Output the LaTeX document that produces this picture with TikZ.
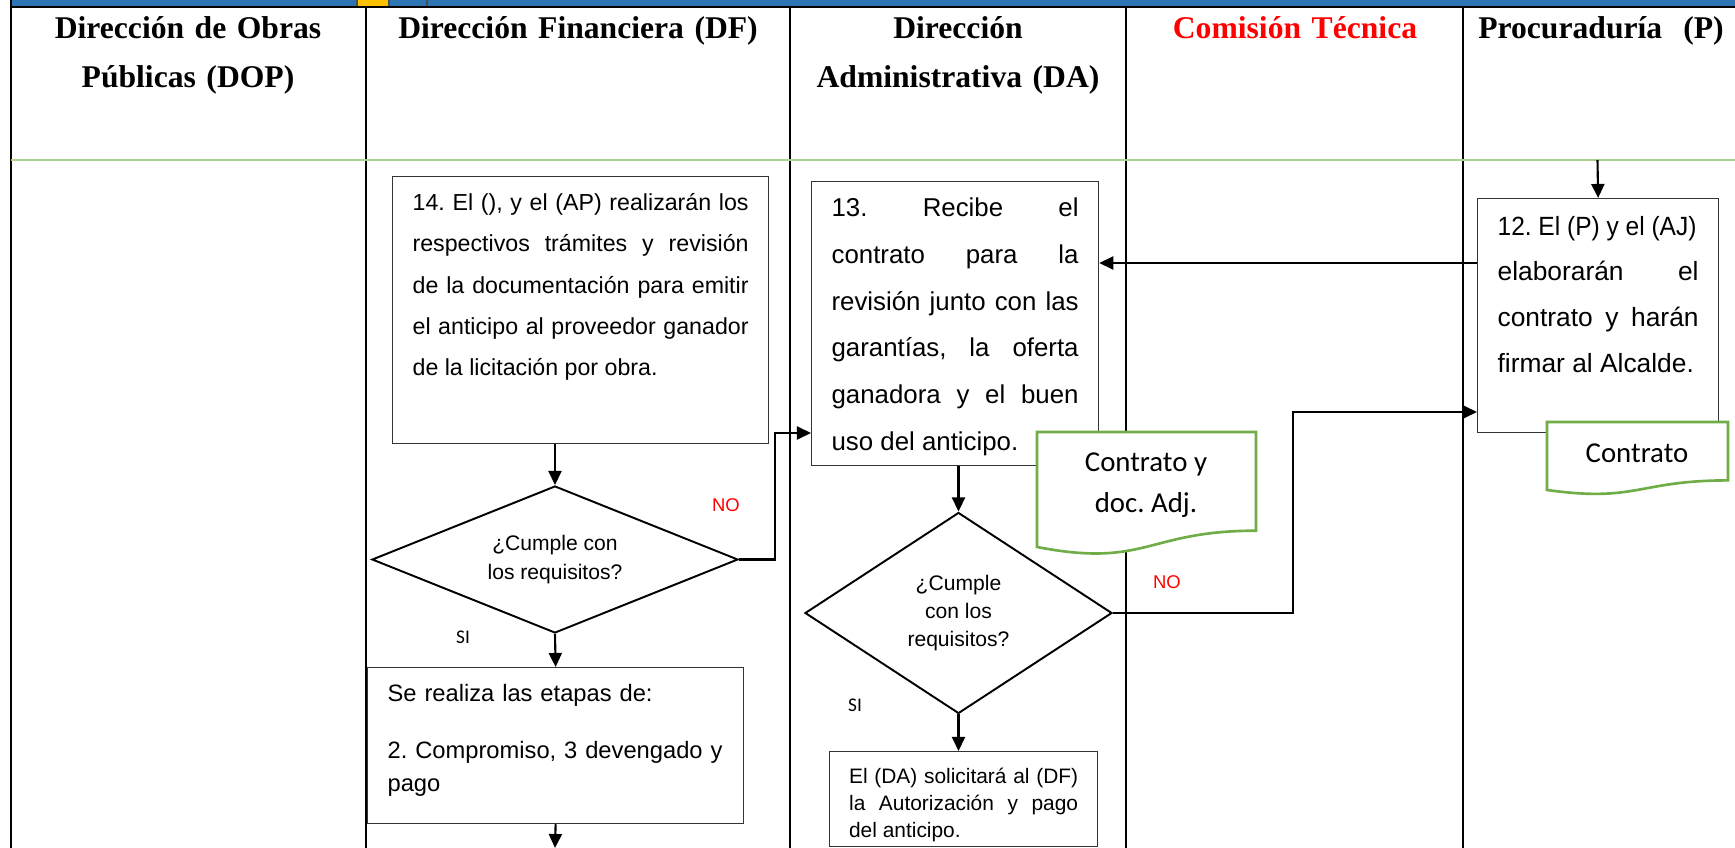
\documentclass[tikz,border=0pt]{standalone}
\usepackage{fontspec}
\usepackage{graphicx}
\setmainfont{Liberation Sans}
\newfontfamily\arial{Liberation Sans}
\newfontfamily\tnr{Liberation Serif}
\newfontfamily\calib{Carlito}
\usetikzlibrary{shapes.geometric, arrows.meta, positioning}
\definecolor{barra}{HTML}{2E75B6}
\definecolor{naranja}{HTML}{FFC000}
\definecolor{verdeclaro}{HTML}{A9D18E}
\definecolor{verdedoc}{HTML}{70AD47}
\newlength\pxu
\setlength\pxu{0.02cm}
\tolerance=10000 \hbadness=10000
\hyphenpenalty=10000 \exhyphenpenalty=10000
\frenchspacing

\begin{document}
\begin{tikzpicture}[x=0.02cm, y=-0.02cm, >={Triangle[length=8pt,width=7.4pt]},
    linea/.style={line width=1.2pt},
    flecha/.style={->, line width=1.2pt},
    caja/.style={draw=black!80, line width=0.7pt, fill=white, inner xsep=20\pxu,
        inner ysep=0pt, align=justify, anchor=north west},
    decision/.style={diamond, draw, line width=1.1pt, inner sep=0pt, align=center,
        font=\arial\fontsize{12}{16}\selectfont},
    titulo/.style={font=\tnr\bfseries\fontsize{18}{27.7}\selectfont, align=center,
        anchor=base, inner sep=0pt},
    documento/.style={draw=verdedoc, line width=1.5pt, fill=white},
    etiq/.style={font=\calib\fontsize{16.4}{23.3}\selectfont, align=center},
    etino/.style={font=\arial\fontsize{10.5}{12}\selectfont, text=red},
    etisi/.style={font=\calib\fontsize{11}{13}\selectfont}]
    \useasboundingbox (0,0) rectangle (1735,848);
    \clip (0,0) rectangle (1735,848);

    % 1. Barra superior y carriles
    \fill[barra] (11,0) rectangle (1735,6);
    \fill[naranja] (358,0) rectangle (388,7);
    \foreach \x in {357,389,427}
        \draw[line width=0.6pt, black!70] (\x,0) -- (\x,7);
    \draw[linea] (10,7) -- (1735,7);
    \draw[linea] (11,0) -- (11,848);
    \foreach \x in {366,790,1126,1463}
        \draw[linea] (\x,7) -- (\x,848);
    \draw[verdeclaro, line width=1.2pt] (11,160) -- (1735,160);

    % 2. Encabezados
    \node[titulo, text width=330\pxu] (hdop) at (188,39) {Dirección de Obras\\Públicas (DOP)};
    \node[titulo, text width=400\pxu] (hdf) at (578,39) {Dirección Financiera (DF)};
    \node[titulo, text width=320\pxu] (hda) at (958,39) {Dirección\\Administrativa (DA)};
    \node[titulo, text width=320\pxu, text=red] (hct) at (1295,39) {Comisión Técnica};
    \node[titulo, text width=260\pxu] (hp) at (1601,39) {Procuraduría\ \ (P)};

    % 3. Actividades
    \node[caja, text width=336\pxu, text height=34\pxu, text depth=233\pxu,
        font=\arial\fontsize{13.2}{23.5}\selectfont] (b14) at (392,176)
        {14. El (), y el (AP) realizarán los\linebreak respectivos trámites y revisión\linebreak
         de la documentación para emitir\linebreak el anticipo al proveedor ganador\linebreak
         de la licitación por obra.};
    \node[caja, text width=247\pxu, text height=35\pxu, text depth=249\pxu,
        font=\arial\fontsize{14.7}{26.6}\selectfont] (b13) at (811,181)
        {13. Recibe el\linebreak contrato para la\linebreak revisión junto con las\linebreak
         garantías, la oferta\linebreak ganadora y el buen\linebreak uso del anticipo.};
    \node[caja, text width=201\pxu, text height=36.5\pxu, text depth=197.5\pxu,
        font=\arial\fontsize{15}{26}\selectfont] (b12) at (1477,198)
        {\scalebox{0.93}[1]{12. El (P) y el (AJ)}\linebreak elaborarán el\linebreak
         contrato y harán\linebreak firmar al Alcalde.};
    \node[caja, align=left, text width=336\pxu, text height=33.6\pxu, text depth=122.4\pxu,
        font=\arial\fontsize{13.5}{18.8}\selectfont] (bse) at (367,667)
        {Se realiza las etapas de:\\[14pt]2. Compromiso, 3 devengado y\\pago};
    \node[caja, inner xsep=19.5\pxu, text width=229\pxu, text height=31.5\pxu, text depth=63.5\pxu,
        font=\arial\fontsize{11.9}{15.6}\selectfont] (bda) at (829,751)
        {El (DA) solicitará al (DF)\linebreak la Autorización y pago\linebreak del anticipo.};

    % 4. Decisiones
    \node[decision, minimum width=366\pxu, minimum height=147\pxu, aspect=2.5] (d1)
        at (555,559.5) {¿Cumple con\\los requisitos?};
    \node[decision, minimum width=307\pxu, minimum height=201\pxu, aspect=1.5,
        font=\arial\fontsize{12}{15.7}\selectfont] (d2) at (958.5,613) {¿Cumple\\con los\\requisitos?};

    % 5. Documentos
    \draw[documento] (1037,432) -- (1256,432) -- (1256,530.7)
        .. controls (1146.5,530.7) and (1146.5,568.2) .. (1037,547) -- cycle;
    \node[etiq] (doc1) at (1146,485) {Contrato y\\doc. Adj.};
    \draw[documento] (1547,422) -- (1728,422) -- (1728,480.4)
        .. controls (1637.5,480.4) and (1637.5,502.6) .. (1547,490) -- cycle;
    \node[etiq] (doc2) at (1637,453) {Contrato};

    % 6. Respuestas
    \node[etino] (no1) at (726,505) {NO};
    \node[etino] (no2) at (1167,582) {NO};
    \node[etisi] (si1) at (463,637) {SI};
    \node[etisi] (si2) at (855,705) {SI};

    % 7. Flechas
    \coordinate (ent12) at (1597.5,160);
    \coordinate (sal) at (555,848);
    \draw[flecha] (ent12) -- (b12.north);
    \draw[flecha] (b12.west |- 0,263) -- (b13.east |- 0,263);
    \draw[flecha] (d1.north |- b14.south) -- (d1.north);
    \draw[flecha] (d1.east) -- ++(36,0) |- (b13.west |- 0,433);
    \draw[flecha] (d1.south) -- (bse.north);
    \draw[flecha] (bse.south) -- (sal);
    \draw[flecha] (d2.north |- b13.south) -- (d2.north);
    \draw[flecha] (d2.east) -- ++(180,0) |- (b12.west |- 0,412);
    \draw[flecha] (d2.south) -- (d2.south |- bda.north);
\end{tikzpicture}
\end{document}
